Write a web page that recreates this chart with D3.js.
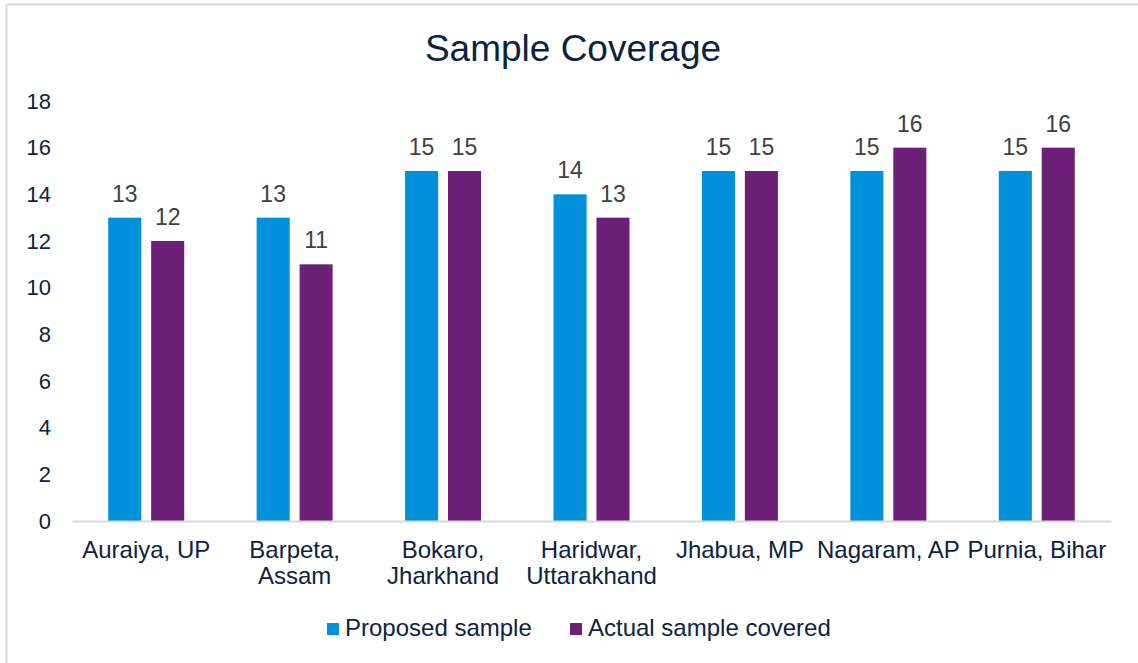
<!DOCTYPE html>
<html>
<head>
<meta charset="utf-8">
<script src="https://cdn.jsdelivr.net/npm/d3@7"></script>
<style>
  body { margin: 0; background: #fff; }
  svg text { font-family: "Liberation Sans", Arial, sans-serif; }
</style>
</head>
<body>
<div id="chart"></div>
<script>
// data
const categories = [
  ["Auraiya, UP"],
  ["Barpeta,", "Assam"],
  ["Bokaro,", "Jharkhand"],
  ["Haridwar,", "Uttarakhand"],
  ["Jhabua, MP"],
  ["Nagaram, AP"],
  ["Purnia, Bihar"]
];
const seriesNames = ["Proposed sample", "Actual sample covered"];
const proposed = [13, 13, 15, 14, 15, 15, 15];
const actual = [12, 11, 15, 13, 15, 16, 16];
const yTicks = [0, 2, 4, 6, 8, 10, 12, 14, 16, 18];

const colors = ["#0091da", "#6d2077"];
const navy = "#0c2340";

const width = 1138, height = 663;
const margin = { top: 101, right: 27, bottom: 142, left: 72 };
const innerW = width - margin.left - margin.right;
const innerH = height - margin.top - margin.bottom;

const svg = d3.select('#chart').append('svg')
  .attr('width', width).attr('height', height);

// chart frame (only top and left edges show)
svg.append('line').attr('x1', 6.5).attr('x2', 6.5).attr('y1', 4.5).attr('y2', height)
  .attr('stroke', '#d9d9d9').attr('stroke-width', 2);
svg.append('line').attr('x1', 6.5).attr('x2', width).attr('y1', 4.5).attr('y2', 4.5)
  .attr('stroke', '#d9d9d9').attr('stroke-width', 2);

// title
svg.append('text').attr('x', 573).attr('y', 61)
  .attr('text-anchor', 'middle').attr('font-size', 37).attr('fill', navy)
  .text('Sample Coverage');

const g = svg.append('g').attr('transform', `translate(${margin.left},${margin.top})`);

const keys = categories.map((d, i) => i);
const x = d3.scaleBand().domain(keys).range([0, innerW]);
const x1 = d3.scaleBand().domain([0, 1]).range([x.bandwidth() / 2 - 38, x.bandwidth() / 2 + 38]).paddingInner(0.23);
const y = d3.scaleLinear().domain([0, 18]).range([innerH, 0]);

// y axis
const yAxis = d3.axisLeft(y).tickValues(yTicks).tickSize(0).tickPadding(21);
g.append('g').call(yAxis)
  .call(s => s.select('.domain').remove())
  .selectAll('text').attr('font-size', 22).attr('fill', navy);

// bars
const rows = keys.map(i => ({ i, vals: [proposed[i], actual[i]] }));
const groups = g.selectAll('.grp').data(rows).join('g')
  .attr('class', 'grp')
  .attr('transform', d => `translate(${x(d.i)},0)`);

groups.selectAll('rect').data(d => d.vals.map((v, s) => ({ v, s }))).join('rect')
  .attr('x', d => x1(d.s)).attr('width', x1.bandwidth())
  .attr('y', d => y(d.v)).attr('height', d => innerH - y(d.v))
  .attr('fill', d => colors[d.s]);

groups.selectAll('.lbl').data(d => d.vals.map((v, s) => ({ v, s }))).join('text')
  .attr('class', 'lbl')
  .attr('x', d => x1(d.s) + x1.bandwidth() / 2)
  .attr('y', d => y(d.v) - 16)
  .attr('text-anchor', 'middle').attr('font-size', 23).attr('fill', '#404040')
  .text(d => d.v);

// x axis
const xAxis = d3.axisBottom(x).tickSize(0).tickFormat(() => '');
const xg = g.append('g').attr('transform', `translate(0,${innerH})`).call(xAxis);
xg.select('.domain').attr('stroke', '#d9d9d9').attr('stroke-width', 2);
xg.selectAll('.tick').each(function (i) {
  const t = d3.select(this).select('text').attr('y', 0).attr('dy', null)
    .attr('font-size', 24).attr('fill', navy);
  t.text(null);
  categories[i].forEach((line, k) => {
    t.append('tspan').attr('x', 0).attr('y', 37 + k * 26).text(line);
  });
});

// legend
const legendItems = [
  { name: seriesNames[0], color: colors[0], x: 327 },
  { name: seriesNames[1], color: colors[1], x: 570 }
];
const lg = svg.append('g').selectAll('g').data(legendItems).join('g')
  .attr('transform', d => `translate(${d.x},623)`);
lg.append('rect').attr('width', 12).attr('height', 12).attr('fill', d => d.color);
lg.append('text').attr('x', 18).attr('y', 13).attr('font-size', 24).attr('fill', navy)
  .text(d => d.name);
</script>
</body>
</html>
